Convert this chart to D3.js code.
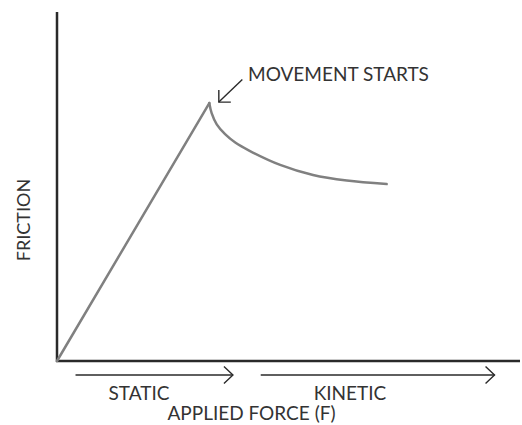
<!DOCTYPE html>
<html><head><meta charset="utf-8">
<script src="https://cdn.jsdelivr.net/npm/d3@7"></script>
<style>html,body{margin:0;padding:0;background:#fff;}svg{display:block;}</style>
</head><body>
<script>
// Data (arbitrary units: applied force vs friction)
const staticForce = [0, 32.9];
const staticFriction = [0, 73.9];
const kineticForce = [32.9, 33.4, 34.5, 36.3, 38.5, 41.5, 48.2, 55.3, 62.6, 71.2];
const kineticFriction = [73.9, 71.0, 67.8, 65.0, 62.6, 60.3, 56.2, 53.3, 51.7, 50.7];
const phaseLabels = ["STATIC", "KINETIC"];
const phaseRanges = [[4, 38], [44, 94.5]];
const xTitle = "APPLIED FORCE (F)";
const yTitle = "FRICTION";
const annotation = "MOVEMENT STARTS";

const W = 522, H = 425;
const svg = d3.select("body").append("svg").attr("width", W).attr("height", H);
const x = d3.scaleLinear().domain([0, 100]).range([57, 520]);
const y = d3.scaleLinear().domain([0, 100]).range([361, 12]);
const font = "Lato, 'Open Sans', sans-serif";
const ink = "#2a2a2a";
const textInk = "#333";

// axes
svg.append("line").attr("x1", x(0)).attr("x2", x(0)).attr("y1", y(0)+1).attr("y2", y(100))
  .attr("stroke", ink).attr("stroke-width", 2.5);
svg.append("line").attr("x1", x(0)-1).attr("x2", x(100)).attr("y1", y(0)).attr("y2", y(0))
  .attr("stroke", ink).attr("stroke-width", 2.5);

// curve
const staticPts = staticForce.map((f, i) => [f, staticFriction[i]]);
const kineticPts = kineticForce.map((f, i) => [f, kineticFriction[i]]);
const lineLin = d3.line().x(d => x(d[0])).y(d => y(d[1]));
const lineCurve = d3.line().x(d => x(d[0])).y(d => y(d[1])).curve(d3.curveCatmullRom.alpha(0.5));
svg.append("path").attr("d", lineLin(staticPts))
  .attr("fill", "none").attr("stroke", "#808080").attr("stroke-width", 2.5).attr("stroke-linecap", "round");
svg.append("path").attr("d", lineCurve(kineticPts))
  .attr("fill", "none").attr("stroke", "#808080").attr("stroke-width", 2.5).attr("stroke-linecap", "round");

// phase arrows
const ay = 375;
phaseRanges.forEach((r, i) => {
  const x1 = x(r[0]), x2 = x(r[1]);
  svg.append("line").attr("x1", x1).attr("x2", x2).attr("y1", ay).attr("y2", ay)
    .attr("stroke", ink).attr("stroke-width", 1.4);
  svg.append("path").attr("d", `M${x2-9},${ay-8.5}L${x2},${ay}L${x2-9},${ay+8.5}`)
    .attr("fill", "none").attr("stroke", ink).attr("stroke-width", 1.4);
});
const labelCenters = [139, 350];
phaseLabels.forEach((t, i) => {
  svg.append("text").attr("x", labelCenters[i]).attr("y", 400).attr("text-anchor", "middle")
    .attr("font-family", font).attr("font-size", 19).attr("fill", textInk).text(t);
});
svg.append("text").attr("x", 251.5).attr("y", 420).attr("text-anchor", "middle")
  .attr("font-family", font).attr("font-size", 19).attr("fill", textInk).text(xTitle);
svg.append("text").attr("transform", "translate(29.5,220) rotate(-90)").attr("text-anchor", "middle")
  .attr("font-family", font).attr("font-size", 18).attr("fill", textInk).text(yTitle);

// annotation
const px = x(kineticPts[0][0]) + 9.5, py = y(kineticPts[0][1]) - 1;
svg.append("line").attr("x1", px + 23.5).attr("y1", py - 22.5).attr("x2", px).attr("y2", py)
  .attr("stroke", ink).attr("stroke-width", 1.4);
svg.append("path").attr("d", `M${px+12},${py}L${px},${py}L${px},${py-12}`)
  .attr("fill", "none").attr("stroke", ink).attr("stroke-width", 1.4);
svg.append("text").attr("x", 248).attr("y", 81).attr("font-family", font).attr("font-size", 19)
  .attr("fill", textInk).text(annotation);
</script>
</body></html>
